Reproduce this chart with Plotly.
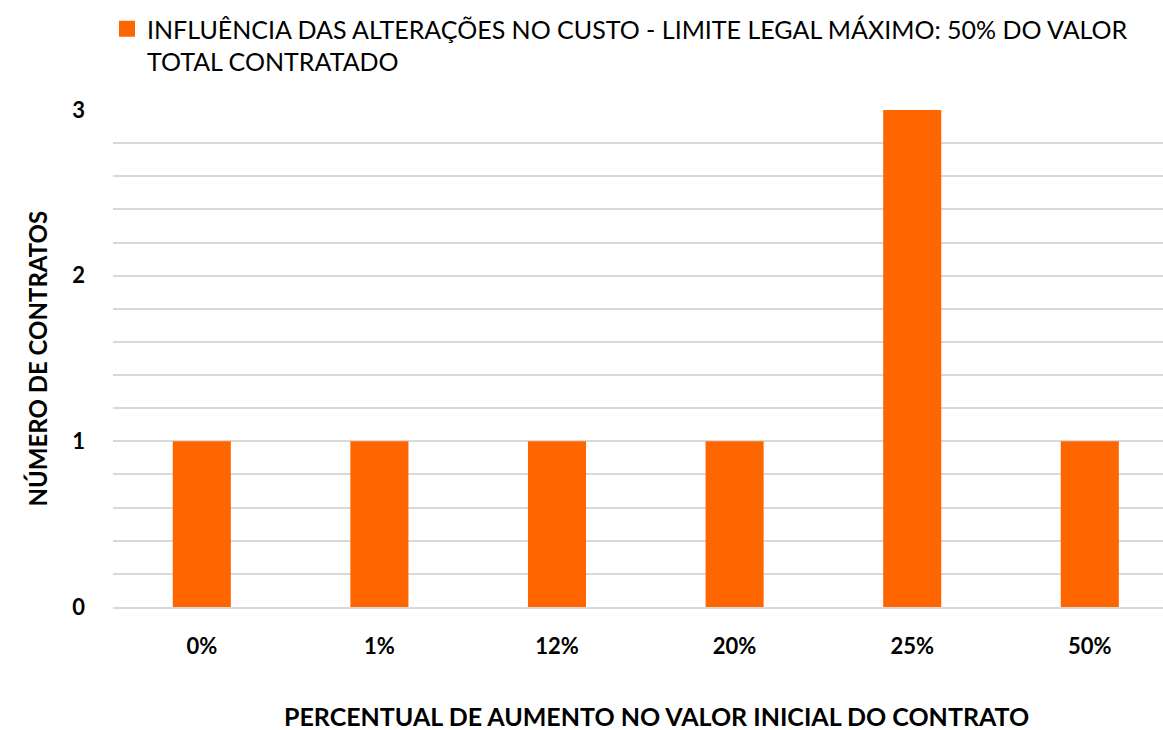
import plotly.graph_objects as go

categories = ["0%", "1%", "12%", "20%", "25%", "50%"]
contracts = [1, 1, 1, 1, 3, 1]
series_name = "INFLUÊNCIA DAS ALTERAÇÕES NO CUSTO - LIMITE LEGAL MÁXIMO: 50% DO VALOR<br>TOTAL CONTRATADO"
y_ticks = [0, 1, 2, 3]

FONT = "Lato"
ORANGE = "#FF6600"
W, H = 1163, 730
ML, MR, MT, MB = 113, 0, 110, 123
CAT_PX = 177.6  # pixel width of one category slot (chart continues past the right edge)

fig = go.Figure()
fig.add_trace(go.Bar(x=categories, y=contracts, name=series_name,
                     marker=dict(color=ORANGE, line=dict(width=0)),
                     showlegend=False))
# legend entry (larger square swatch)
fig.add_trace(go.Scatter(x=[None], y=[None], mode="markers", name=series_name,
                         marker=dict(symbol="square", size=16, color=ORANGE),
                         showlegend=True, hoverinfo="skip"))

pw = W - ML - MR
ph = H - MT - MB

fig.update_layout(
    width=W, height=H,
    paper_bgcolor="white", plot_bgcolor="white",
    margin=dict(l=ML, r=MR, t=MT, b=MB, autoexpand=False),
    bargap=0.673,
    font=dict(family=FONT, color="black"),
    showlegend=True,
    legend=dict(orientation="h", x=(107 - ML) / pw, xanchor="left",
                y=1 + (MT - 6) / ph, yanchor="top", valign="top",
                font=dict(size=25, family=FONT, color="black"),
                itemsizing="trace", bgcolor="rgba(0,0,0,0)"),
    xaxis=dict(showgrid=False, showline=True, linecolor="#d9d9d9", linewidth=1.5,
               range=[-0.5, -0.5 + pw / CAT_PX],
               ticks="", tickfont=dict(size=22, family=FONT, color="black", weight="bold"),
               ticklabelstandoff=19),
    yaxis=dict(range=[0, 3], tickvals=y_ticks, showgrid=True, gridcolor="#d9d9d9", gridwidth=1.5,
               zeroline=False, ticks="",
               tickfont=dict(size=22, family=FONT, color="black", weight="bold"),
               ticklabelstandoff=27,
               minor=dict(dtick=0.2, showgrid=True, gridcolor="#d9d9d9", gridwidth=1.5)),
)
fig.add_annotation(text="<b>PERCENTUAL DE AUMENTO NO VALOR INICIAL DO CONTRATO</b>",
                   x=(656 - ML) / pw, y=-(716 - (H - MB)) / ph,
                   xref="paper", yref="paper", showarrow=False,
                   xanchor="center", yanchor="middle", font=dict(size=25, family=FONT))
fig.add_annotation(text="<b>NÚMERO DE CONTRATOS</b>", x=-(ML - 37) / pw, y=0.5,
                   xref="paper", yref="paper", showarrow=False, textangle=-90,
                   xanchor="center", yanchor="middle", font=dict(size=24, family=FONT))

fig.write_html("out.html", config={"displayModeBar": False},
               post_script="document.body.style.margin='0';document.body.style.overflow='hidden';")
